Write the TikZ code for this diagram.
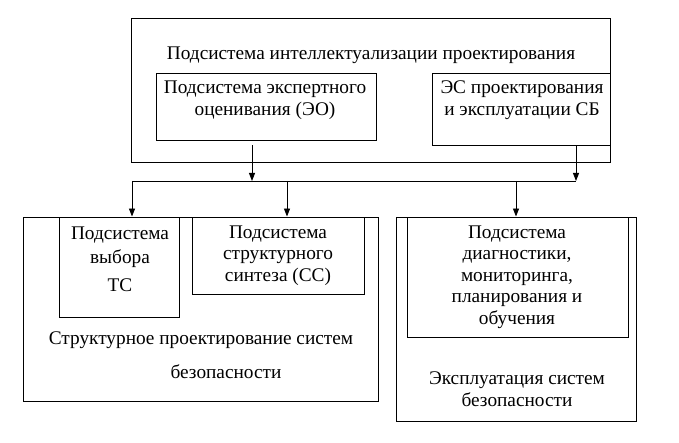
\documentclass[tikz,border=0pt]{standalone}
\usepackage{fontspec}
\setmainfont{Liberation Serif}
\usetikzlibrary{positioning,arrows.meta}
\tikzset{
  box/.style={draw, line width=0.9pt, inner sep=0pt},
  txt/.style={align=center, inner sep=0pt, font=\fontsize{19.3}{21.5}\selectfont},
  fwd/.style={-{Triangle[length=8pt,width=6pt]}, line width=0.9pt},
  bus/.style={line width=0.9pt},
}

\begin{document}
\begin{tikzpicture}[x=1pt,y=-1pt]
\useasboundingbox (0,0) rectangle (679,443);
%Boxes
\node[box, minimum width=479pt, minimum height=144pt] (top) at (370.5,90) {};
\node[box, minimum width=220pt, minimum height=67pt] (eo) at (266,106.5) {};
\node[box, minimum width=178pt, minimum height=72pt] (es) at (521,109) {};
\node[box, minimum width=355pt, minimum height=184pt] (struct) at (200.5,309) {};
\node[box, minimum width=120pt, minimum height=100pt] (tc) at (119,267) {};
\node[box, minimum width=172pt, minimum height=77pt] (cc) at (278,255.5) {};
\node[box, minimum width=240pt, minimum height=204pt] (expl) at (516,319) {};
\node[box, minimum width=221pt, minimum height=120pt] (diag) at (517.5,277) {};

%Texts
\node[txt] (toptext) at (371,55) {Подсистема интеллектуализации проектирования};
\node[txt] (eotext) at (265,100) {Подсистема экспертного\\оценивания (ЭО)};
\node[txt] (estext) at (522,100) {ЭС проектирования\\и эксплуатации СБ};
\node[txt] (tctext) at (120,259.5) {Подсистема\\[2pt]выбора\\[7pt]ТС};
\node[txt] (cctext) at (278,255.5) {Подсистема\\структурного\\синтеза (СС)};
\node[txt] (structa) at (201,340) {Структурное проектирование систем};
\node[txt] (structb) at (226,372) {безопасности};
\node[txt] (diagtext) at (517,277) {Подсистема\\диагностики,\\мониторинга,\\планирования и\\обучения};
\node[txt] (expltext) at (517,389) {Эксплуатация систем\\безопасности};

%Lines
\coordinate (eoout) at ([xshift=-14pt,yshift=-5pt]eo.south);
\coordinate (esout) at ([xshift=55pt]es.south);
\coordinate (busL) at (132,181);
\coordinate (busR) at (576,181);
\draw[bus] (busL) -- (busR);
\draw[fwd] (eoout) -- (eoout |- busL);
\draw[fwd] (esout) -- (esout |- busR);
\draw[fwd] (busL) -- (busL |- tc.north);
\draw[fwd] ([xshift=9pt]cc.north |- busL) -- ([xshift=9pt]cc.north);
\draw[fwd] ([xshift=-1.5pt]diag.north |- busL) -- ([xshift=-1.5pt]diag.north);
\end{tikzpicture}
\end{document}
